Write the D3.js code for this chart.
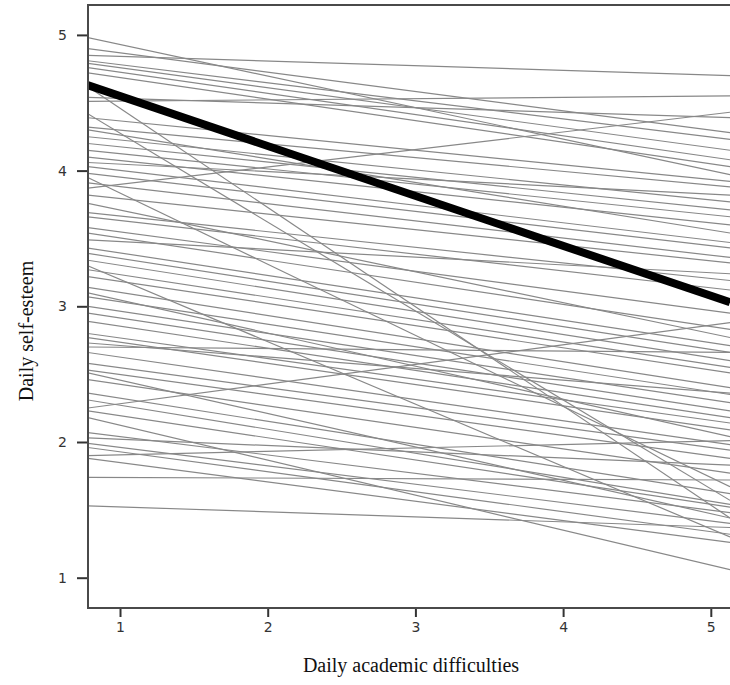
<!DOCTYPE html>
<html>
<head>
<meta charset="utf-8">
<script src="https://cdn.jsdelivr.net/npm/d3@7"></script>
<style>
  html, body { margin: 0; padding: 0; background: #fff; }
  svg { display: block; }
</style>
</head>
<body>
<svg id="chart" width="730" height="685"></svg>
<script>
// ---- Data ----
// Range of daily academic difficulties over which each person's line is drawn
const xRange = [0.78, 5.13];
// Individual (person-level) predicted self-esteem at the left and right of the range
const startSE = [
  4.85, 4.51, 3.87, 2.25, 1.90, 1.74, 2.18, 4.42, 3.95, 1.53,
  4.98, 4.90, 4.81, 4.79, 4.76, 4.72, 4.54, 4.39, 4.32, 4.30,
  4.25, 4.20, 4.15, 4.10, 4.06, 4.03, 3.98, 3.91, 3.82, 3.76,
  3.69, 3.66, 3.58, 3.54, 3.49, 3.43, 3.39, 3.34, 3.27, 3.22,
  3.14, 3.10, 3.07, 3.00, 2.95, 2.89, 2.80, 2.77, 2.73, 2.66,
  2.58, 2.53, 2.51, 2.46, 2.36, 2.31, 2.23, 2.07, 2.03, 1.99,
  1.96, 1.88, 4.62, 3.30, 2.70
];
const endSE = [
  4.70, 4.55, 4.43, 2.88, 2.01, 1.72, 1.06, 1.57, 1.67, 1.37,
  3.97, 4.28, 4.23, 4.15, 4.08, 4.03, 4.39, 3.92, 3.88, 3.54,
  3.77, 3.71, 3.66, 3.60, 3.82, 3.47, 3.43, 3.36, 3.32, 2.77,
  3.19, 3.12, 2.95, 2.83, 3.24, 2.71, 2.66, 2.60, 2.55, 2.51,
  2.40, 2.04, 2.35, 2.29, 2.23, 2.18, 2.14, 2.09, 2.36, 1.98,
  1.94, 1.88, 1.44, 1.77, 1.62, 1.54, 1.52, 1.48, 1.83, 1.40,
  1.32, 1.26, 1.44, 1.30, 2.66
];
// Average (fixed-effect) line
const fixedSE = [4.63, 3.03];
// Tick labels
const xTicks = [1, 2, 3, 4, 5];
const yTicks = [1, 2, 3, 4, 5];
const xTitle = "Daily academic difficulties";
const yTitle = "Daily self-esteem";

// ---- Layout ----
const svg = d3.select("#chart");
const pL = 88, pR = 742, pT = 5, pB = 608;

const x = d3.scaleLinear().domain([0.7833, 5.2112]).range([pL, pR]);
const y = d3.scaleLinear().domain([0.7767, 5.2204]).range([pB, pT]);

svg.append("defs").append("clipPath").attr("id", "plotclip")
  .append("rect").attr("x", pL).attr("y", pT)
  .attr("width", pR - pL).attr("height", pB - pT);

const plot = svg.append("g").attr("clip-path", "url(#plotclip)");

const people = startSE.map((s, i) => [[xRange[0], s], [xRange[1], endSE[i]]]);
const line = d3.line().x(d => x(d[0])).y(d => y(d[1]));

plot.selectAll("path.person").data(people).join("path")
  .attr("class", "person")
  .attr("d", line)
  .attr("fill", "none")
  .attr("stroke", "#888888")
  .attr("stroke-width", 1.2);

plot.append("path")
  .datum([[xRange[0], fixedSE[0]], [xRange[1], fixedSE[1]]])
  .attr("d", line)
  .attr("fill", "none")
  .attr("stroke", "#000")
  .attr("stroke-width", 8);

// Frame
svg.append("rect")
  .attr("x", pL).attr("y", pT)
  .attr("width", pR - pL).attr("height", pB - pT)
  .attr("fill", "none").attr("stroke", "#4a4a4a").attr("stroke-width", 2);

// Axes
const yAxis = d3.axisLeft(y).tickValues(yTicks).tickFormat(d3.format("d"))
  .tickSize(10).tickPadding(10);
const gy = svg.append("g").attr("transform", `translate(${pL - 1},0)`).call(yAxis);
gy.select(".domain").remove();

const xAxis = d3.axisBottom(x).tickValues(xTicks).tickFormat(d3.format("d"))
  .tickSize(8).tickPadding(5);
const gx = svg.append("g").attr("transform", `translate(0,${pB + 1})`).call(xAxis);
gx.select(".domain").remove();

[gx, gy].forEach(g => {
  g.selectAll(".tick line").attr("stroke", "#333").attr("stroke-width", 2);
  g.selectAll(".tick text")
    .attr("fill", "#333")
    .style("font-family", "'DejaVu Sans', Verdana, sans-serif")
    .style("font-size", "14px");
});

// Axis titles
svg.append("text")
  .attr("x", 411).attr("y", 672)
  .attr("text-anchor", "middle")
  .style("font-family", "'Liberation Serif', 'Times New Roman', serif")
  .style("font-size", "20px")
  .attr("fill", "#111")
  .text(xTitle);

svg.append("text")
  .attr("transform", "translate(33,331) rotate(-90)")
  .attr("text-anchor", "middle")
  .style("font-family", "'Liberation Serif', 'Times New Roman', serif")
  .style("font-size", "20px")
  .attr("fill", "#111")
  .text(yTitle);
</script>
</body>
</html>
